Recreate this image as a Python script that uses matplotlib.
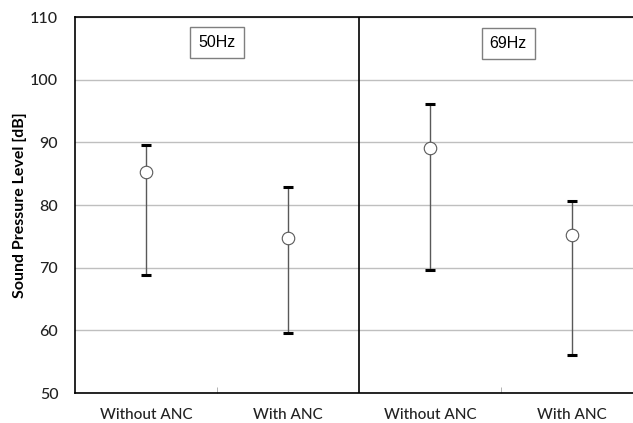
import numpy as np
import matplotlib.pyplot as plt

categories = ["Without ANC", "With ANC", "Without ANC", "With ANC"]
means = np.array([85.3, 74.7, 89.1, 75.2])
upper = np.array([89.6, 82.8, 96.1, 80.6])
lower = np.array([68.9, 59.5, 69.6, 56.1])
groups = ["50Hz", "69Hz"]

fig = plt.figure(figsize=(6.33, 4.23), dpi=100)
ax = fig.add_axes([75/633, 30/423, 568/633, 376/423])

x = np.arange(len(categories))
yerr = np.vstack([means - lower, upper - means])

eb = ax.errorbar(x, means, yerr=yerr, fmt='none', ecolor='#595959', elinewidth=1,
                 capsize=3.5, capthick=2.2, zorder=3)
for cap in eb[1]:
    cap.set_markeredgecolor('black')
ax.plot(x, means, 'o', ms=9, mfc='white', mec='#595959', mew=0.8, zorder=4)

ax.set_xlim(-0.5, 3.5)
ax.set_ylim(50, 110)
ax.set_yticks(np.arange(50, 111, 10))
ax.yaxis.grid(True, color='#bfbfbf', lw=1)
ax.set_axisbelow(True)
ax.tick_params(axis='y', length=0, labelsize=11.5, pad=12, labelcolor='#222222')
ax.set_xticks(x)
ax.set_xticklabels(categories, fontsize=11)
ax.tick_params(axis='x', length=0, pad=11, labelcolor='#222222')
ax.set_xticks([0.5, 2.5], minor=True)
ax.tick_params(axis='x', which='minor', direction='in', length=4, color='#a6a6a6')

for lbl in ax.get_xticklabels() + ax.get_yticklabels():
    lbl.set_family(['Lato', 'DejaVu Sans'])
    lbl.set_fontweight('medium')

ax.set_ylabel("Sound Pressure Level [dB]", fontsize=11.5, fontweight='bold',
              family=['Lato', 'DejaVu Sans'], labelpad=2)

ax.axvline(1.5, color='black', lw=1.2)
for s in ['left', 'bottom', 'top']:
    ax.spines[s].set_color('black')
    ax.spines[s].set_linewidth(1.2)
ax.spines['right'].set_visible(False)

box = dict(boxstyle='square,pad=0.5', fc='white', ec='#7f7f7f', lw=1)
ax.text(0.5, 106, groups[0], ha='center', va='center', fontsize=11.5,
        family='Liberation Sans', bbox=box)
ax.text(2.55, 105.7, groups[1], ha='center', va='center', fontsize=11.5,
        family='Liberation Sans', bbox=box)

fig.savefig("out.png", dpi=100)
